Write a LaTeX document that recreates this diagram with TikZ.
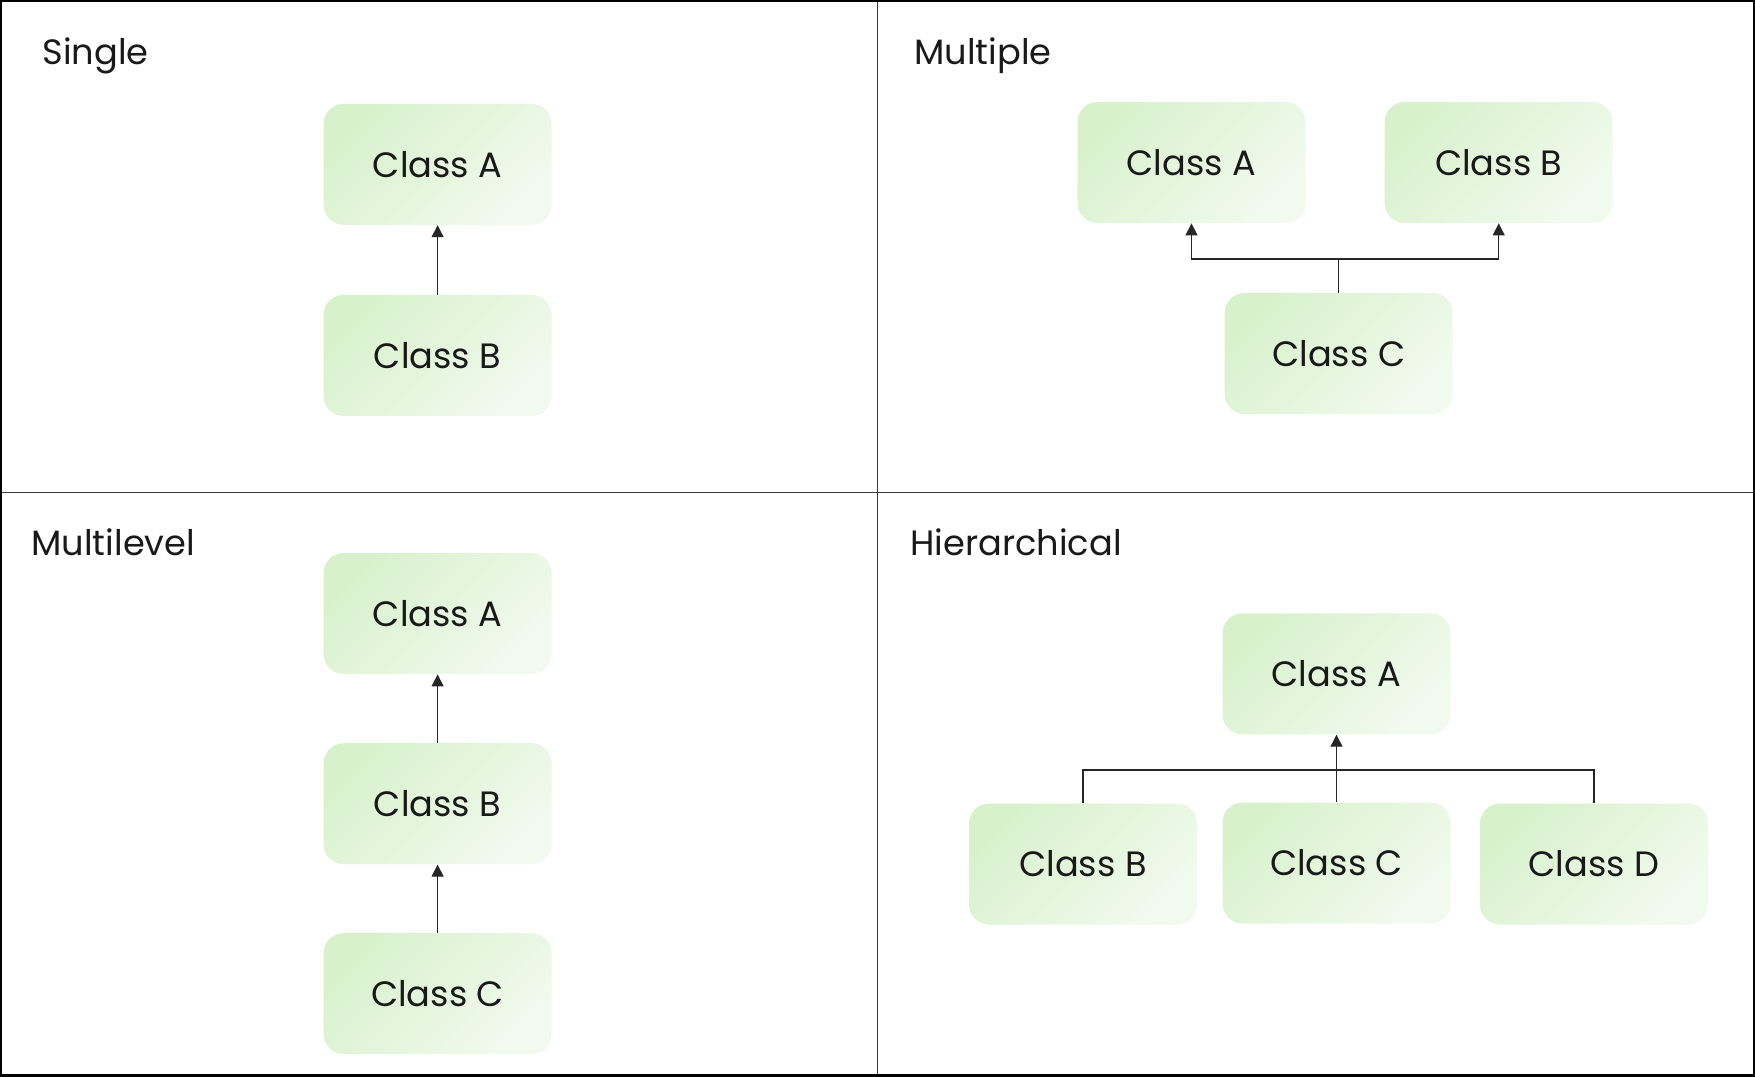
\documentclass[tikz,border=0pt]{standalone}
\usepackage{fontspec}
\setmainfont{Poppins}
\usetikzlibrary{arrows.meta}
\definecolor{gA}{HTML}{D8F1CC}
\definecolor{gB}{HTML}{F2FAEF}
\definecolor{divc}{HTML}{3A3A3A}
\tikzset{
  cls/.style={rectangle, rounded corners=10pt, minimum width=114pt, minimum height=60.5pt,
    inner sep=0pt, left color=gA, right color=gB, shading angle=45,
    font=\fontsize{17.6pt}{19pt}\selectfont, text=black!90},
  ttl/.style={anchor=west, inner sep=0pt, font=\fontsize{17.6pt}{19pt}\selectfont, text=black!90},
  arr/.style={draw=black!85, line width=0.6pt, -{Triangle[length=6pt,width=6pt]}},
  con/.style={draw=black!85, line width=0.6pt},
}
\begin{document}
\begin{tikzpicture}[x=0.5pt,y=-0.5pt]
\useasboundingbox (0,0) rectangle (1755,1076);
\fill[white] (0,0) rectangle (1755,1076);
% frame
\draw[divc, line width=0.6pt] (877.5,0) -- (877.5,1076);
\draw[divc, line width=0.6pt] (0,492.5) -- (1755,492.5);
\draw[black, line width=1.6pt] (0.8,0.8) rectangle (1754.2,1075.2);
% titles
\node[ttl] (t1) at (42,56) {Single};
\node[ttl] (t2) at (914,56) {Multiple};
\node[ttl] (t3) at (31,542.5) {Multilevel};
\node[ttl] (t4) at (910,542.5) {Hierarchical};
% single
\node[cls] (sA) at (437.6,164.3) {Class A};
\node[cls] (sB) at (437.6,355.4) {Class B};
\draw[arr] (sB.north) -- (sA.south);
% multiple
\node[cls] (mA) at (1191.5,162.5) {Class A};
\node[cls] (mB) at (1498.7,162.5) {Class B};
\node[cls] (mC) at (1338.7,353.5) {Class C};
\coordinate (mJ) at (1338.7,259);
\draw[con] (mC.north) -- (mJ);
\draw[arr] (mJ) -| (mA.south);
\draw[arr] (mJ) -| (mB.south);
% multilevel
\node[cls] (lA) at (437.6,613.5) {Class A};
\node[cls] (lB) at (437.6,803.7) {Class B};
\node[cls] (lC) at (437.6,993.7) {Class C};
\draw[arr] (lB.north) -- (lA.south);
\draw[arr] (lC.north) -- (lB.south);
% hierarchical
\node[cls] (hA) at (1336.5,673.8) {Class A};
\node[cls] (hB) at (1083,864) {Class B};
\node[cls] (hC) at (1336.5,863) {Class C};
\node[cls] (hD) at (1594,864) {Class D};
\coordinate (hJ) at (1336.5,770);
\draw[con] (hB.north) |- (hJ) -| (hD.north);
\draw[arr] (hC.north) -- (hA.south);
\end{tikzpicture}
\end{document}
